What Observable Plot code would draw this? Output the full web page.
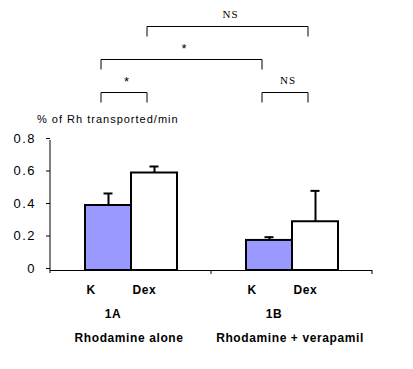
<!DOCTYPE html>
<html><head><meta charset="utf-8">
<script src="https://cdn.jsdelivr.net/npm/d3@7"></script>
<script src="https://cdn.jsdelivr.net/npm/@observablehq/plot@0.6"></script>
<style>body{margin:0;background:#fff}</style>
</head><body><div id="chart"></div>
<script>
// ---- data ----
const groups = ["1A", "1B"];
const groupLabels = ["Rhodamine alone", "Rhodamine + verapamil"];
const conditions = ["K", "Dex"];
const meansK = [0.40, 0.185];
const meansDex = [0.60, 0.30];
const errK = [0.074, 0.02];
const errDex = [0.04, 0.19];
const yTicks = [0, 0.2, 0.4, 0.6, 0.8];
const yTitle = "% of Rh transported/min";
// significance comparisons
const compFrom = [["1A","K"], ["1B","K"], ["1A","K"], ["1A","Dex"]];
const compTo   = [["1A","Dex"], ["1B","Dex"], ["1B","K"], ["1B","Dex"]];
const compLabel = ["*", "NS", "*", "NS"];
const compLevel = [1, 1, 2, 3];

const rows = [];
groups.forEach((g, i) => {
  rows.push({group: g, condition: "K", mean: meansK[i], err: errK[i]});
  rows.push({group: g, condition: "Dex", mean: meansDex[i], err: errDex[i]});
});

const W = 413, H = 369, mL = 49, mR = 41, mT = 140, mB = 99;
const boldFont = "Liberation Sans, Arial, sans-serif";

const plot = Plot.plot({
  width: W, height: H,
  marginLeft: mL, marginRight: mR, marginTop: mT, marginBottom: mB,
  style: {fontFamily: boldFont, color: "black", background: "white", overflow: "visible"},
  fx: {domain: groups, padding: 0},
  x: {domain: conditions, paddingInner: 0, paddingOuter: 0.72},
  y: {domain: [0, 0.8]},
  color: {domain: conditions, range: ["#9999ff", "#ffffff"]},
  marks: [
    Plot.barY(rows, {fx: "group", x: "condition", y: "mean", fill: "condition", stroke: "black", strokeWidth: 2}),
    Plot.ruleX(rows, {fx: "group", x: "condition", y1: "mean", y2: d => d.mean + d.err, stroke: "black", strokeWidth: 2}),
    Plot.tickY(rows, {fx: "group", x: "condition", y: d => d.mean + d.err, stroke: "black", strokeWidth: 2, insetLeft: 18.5, insetRight: 18.5}),
    Plot.ruleY([0], {stroke: "black", strokeWidth: 1}),
    Plot.axisY({ticks: yTicks, tickSize: 4, tickPadding: 10.5, fontSize: 13, tickFormat: d => d === 0 ? "0" : d3.format(".1f")(d), label: null, dy: -2}),
    Plot.axisX({anchor: "bottom", tickSize: 0, tickPadding: 15, textAnchor: "start", dx: -22, fontSize: 12, fontWeight: "bold", label: null}),
    Plot.axisFx({anchor: "bottom", tickSize: 0, tickPadding: 39, dx: -18, fontSize: 12, fontWeight: "bold", label: null}),
    Plot.axisFx({anchor: "bottom", tickSize: 0, tickPadding: 63, dx: -2, fontSize: 12, fontWeight: "bold", label: null,
      tickFormat: g => groupLabels[groups.indexOf(g)]})
  ]
});

const svg = d3.select(plot);
svg.selectAll('g[aria-label="y-axis tick label"] text').style("letter-spacing", "1.5px");
svg.selectAll('g[aria-label="x-axis tick label"] text, g[aria-label="fx-axis tick label"] text').style("letter-spacing", "0.6px");

const fx = plot.scale("fx"), x = plot.scale("x"), y = plot.scale("y");
const cx = (g, c) => fx.apply(g) - mL + x.apply(c) + x.bandwidth / 2;
const y0 = y.apply(0), yTop = y.apply(0.8);
const left = fx.apply(groups[0]);

const ann = svg.append("g").attr("stroke", "black").attr("fill", "none");
// y axis line
ann.append("line").attr("x1", left).attr("x2", left).attr("y1", yTop).attr("y2", y0 + 3);
// x axis ticks at group boundaries
groups.forEach(g => {
  const xe = fx.apply(g) + fx.bandwidth;
  ann.append("line").attr("x1", xe).attr("x2", xe).attr("y1", y0).attr("y2", y0 + 4);
});
// y title
svg.append("text").attr("x", 37).attr("y", yTop - 17).attr("font-size", 11)
  .attr("text-anchor", "start").attr("fill", "black")
  .attr("font-family", boldFont).style("letter-spacing", "1px").text(yTitle);

// significance brackets
const bracketOffset = -7;
compLabel.forEach((lab, i) => {
  const xa = cx(...compFrom[i]) + bracketOffset;
  const xb = cx(...compTo[i]) + bracketOffset;
  const by = yTop - 48 - 33 * (compLevel[i] - 1);
  ann.append("path").attr("d", `M${xa},${by + 10.5}V${by + 0.5}H${xb}V${by + 10.5}`);
  const star = lab === "*";
  svg.append("text").attr("x", (xa + xb) / 2 + 3).attr("y", star ? by - 6 : by - 8)
    .attr("text-anchor", "middle").attr("fill", "black")
    .attr("font-family", star ? "Liberation Sans, Arial, sans-serif" : "Liberation Serif, Times New Roman, serif")
    .attr("font-size", star ? 13 : 11).style("letter-spacing", "1px").text(lab);
});

document.getElementById("chart").appendChild(plot);
</script>
</body></html>
